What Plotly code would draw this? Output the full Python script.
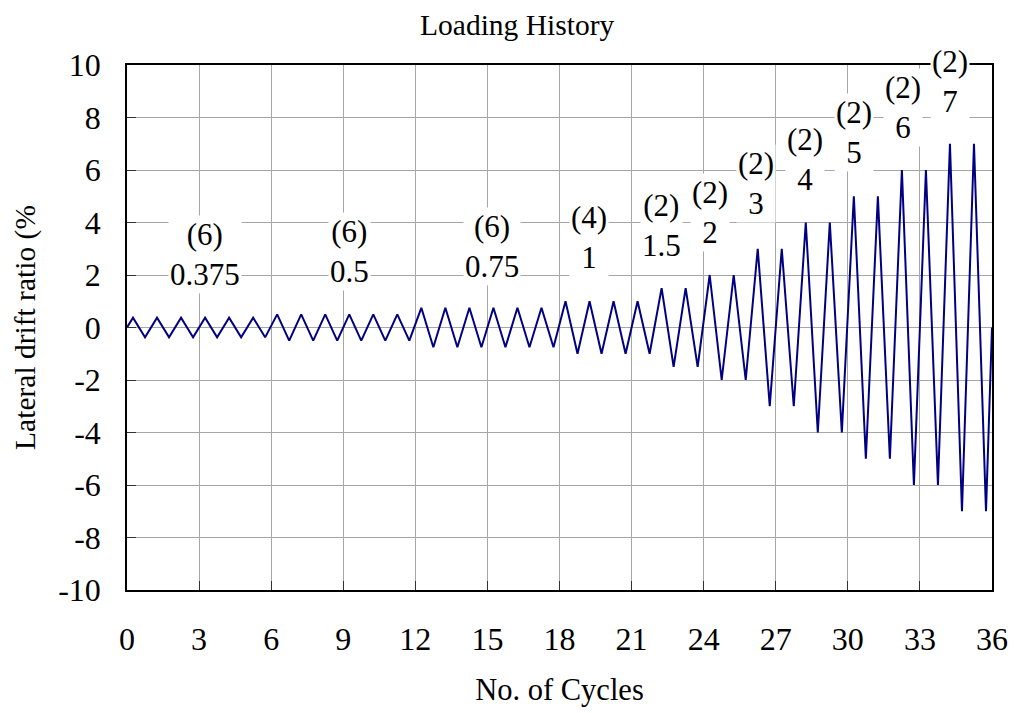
import plotly.graph_objects as go

# ---- data ----
# peak drift ratio (%) of each of the 36 cycles
cycle_amplitude = [
    0.375, 0.375, 0.375, 0.375, 0.375, 0.375,
    0.5, 0.5, 0.5, 0.5, 0.5, 0.5,
    0.75, 0.75, 0.75, 0.75, 0.75, 0.75,
    1, 1, 1, 1,
    1.5, 1.5,
    2, 2,
    3, 3,
    4, 4,
    5, 5,
    6, 6,
    7, 7,
]
label_counts = ["(6)", "(6)", "(6)", "(4)", "(2)", "(2)", "(2)", "(2)", "(2)", "(2)", "(2)"]
label_levels = ["0.375", "0.5", "0.75", "1", "1.5", "2", "3", "4", "5", "6", "7"]
x_ticks = [0, 3, 6, 9, 12, 15, 18, 21, 24, 27, 30, 33, 36]
y_ticks = [-10, -8, -6, -4, -2, 0, 2, 4, 6, 8, 10]

# ---- label placement (layout, data coordinates) ----
label_x = [3.23, 9.25, 15.19, 19.24, 22.26, 24.25, 26.19, 28.22, 30.25, 32.28, 34.26]
label_y = [2.78, 2.88, 3.08, 3.42, 3.88, 4.37, 5.48, 6.39, 7.41, 8.37, 9.39]

# build the triangular loading waveform from the cycle amplitudes
xs, ys = [0.0], [0.0]
for i, a in enumerate(cycle_amplitude):
    xs += [i + 0.25, i + 0.75]
    ys += [a, -a]
xs.append(float(len(cycle_amplitude)))
ys.append(0.0)

FONT = "Liberation Serif, Times New Roman, serif"

fig = go.Figure()
fig.add_trace(go.Scatter(
    x=xs, y=ys, mode="lines",
    line=dict(color="#000080", width=2),
    showlegend=False, hoverinfo="skip",
))

for lx, ly, c, lv in zip(label_x, label_y, label_counts, label_levels):
    fig.add_annotation(
        x=lx, y=ly, xref="x", yref="y",
        text=f"{c}<br>{lv}", showarrow=False,
        font=dict(family=FONT, size=31, color="black"),
        bgcolor="white", borderpad=1, align="center",
    )

fig.update_layout(
    width=1020, height=713,
    margin=dict(l=127, r=23, t=65, b=122),
    paper_bgcolor="white", plot_bgcolor="white",
    font=dict(family=FONT, size=32, color="black"),
    title=dict(text="Loading History", x=0.507, xref="container", xanchor="center",
               y=1 - 25 / 713, yref="container", yanchor="middle",
               font=dict(family=FONT, size=29.5, color="black")),
    xaxis=dict(
        range=[0, 36], tickvals=x_ticks, ticktext=[str(v) for v in x_ticks],
        tickfont=dict(family=FONT, size=32, color="black"),
        showgrid=True, gridcolor="#a6a6a6", gridwidth=1,
        zeroline=False, showline=True, linecolor="black", linewidth=1.5, mirror=True,
        ticks="inside", ticklen=9, tickcolor="#333333", tickwidth=1,
        ticklabelstandoff=20,
        title=dict(text="No. of Cycles", standoff=22,
                   font=dict(family=FONT, size=30.5, color="black")),
    ),
    yaxis=dict(
        range=[-10, 10], tickvals=y_ticks, ticktext=[str(v) for v in y_ticks],
        tickfont=dict(family=FONT, size=32, color="black"),
        showgrid=True, gridcolor="#a6a6a6", gridwidth=1,
        zeroline=True, zerolinecolor="#a6a6a6", zerolinewidth=1,
        showline=True, linecolor="black", linewidth=1.5, mirror=True,
        ticks="inside", ticklen=9, tickcolor="#333333", tickwidth=1,
        ticklabelstandoff=18,
        title=dict(text="Lateral drift ratio (%", standoff=14,
                   font=dict(family=FONT, size=29.5, color="black")),
    ),
)

fig.write_html("out.html")
